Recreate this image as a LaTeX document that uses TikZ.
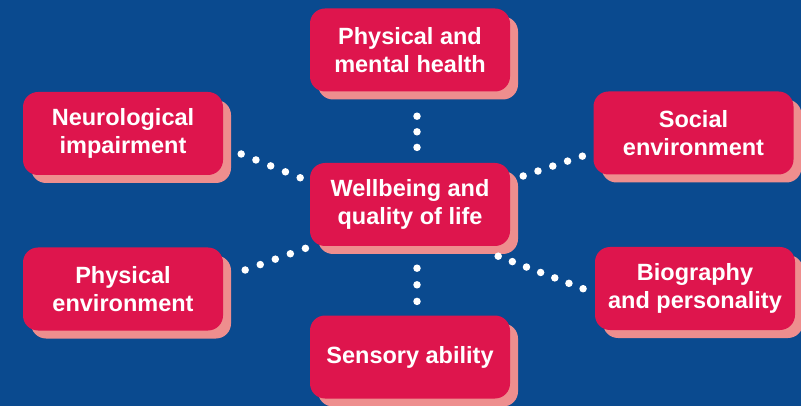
\documentclass[tikz,border=0pt]{standalone}
\usepackage{fontspec}
\setmainfont{Liberation Sans}
\usepackage{tikz}
\usetikzlibrary{positioning,calc,shadows}
\definecolor{wbblue}{HTML}{0A4A8F}
\definecolor{wbred}{HTML}{DE154D}
\definecolor{wbpink}{HTML}{EE8E8E}

\begin{document}
\begin{tikzpicture}[x=1pt, y=-1pt,
    factor/.style={fill=wbred, text=white, rounded corners=15pt,
        minimum width=200pt, minimum height=83pt, inner sep=0pt, align=center,
        font=\bfseries\fontsize{23.5}{28}\selectfont,
        drop shadow={shadow xshift=8pt, shadow yshift=-8pt, fill=wbpink, opacity=1}},
    dotline/.style={draw=white, line width=7.5pt, line cap=round, dash pattern=on 0pt off #1}]

%%% ---------- FONDO ----------
\fill[wbblue] (0,0) rectangle (801,406);
\useasboundingbox (0,0) rectangle (801,406);

%%% ---------- CAJAS ----------
\node[factor] (health)    at (410,50)    {Physical and\\mental health};
\node[factor] (neuro)     at (123,133.5) {Neurological\\impairment};
\node[factor] (social)    at (693.5,133) {Social\\environment};
\node[factor] (wellbeing) at (410,204.5) {Wellbeing and\\quality of life};
\node[factor] (physenv)   at (123,289)   {Physical\\environment};
\node[factor] (bio)       at (695,288.5) {Biography\\and personality};
\node[factor] (sensory)   at (410,357)   {Sensory ability};

%%% ---------- CONEXIONES (puntos) ----------
% verticales
\draw[dotline=15.6pt] ($(health.south)+(7,24.5)$) -- ($(wellbeing.north)+(7,-15)$);
\draw[dotline=16.6pt] ($(wellbeing.south)+(7,22)$) -- ($(sensory.north)+(7,-13.5)$);

% diagonales
\draw[dotline=15.9pt]  ($(neuro.east)+(18,20.5)$) -- ($(wellbeing.west)+(-9,-26.5)$);
\draw[dotline=15.6pt]  ($(wellbeing.east)+(13,-28.5)$) -- ($(social.west)+(-10.5,23)$);
\draw[dotline=16pt]    ($(physenv.east)+(22,-19)$) -- ($(wellbeing.south west)+(-4,2)$);
\draw[dotline=15.15pt] ($(wellbeing.south east)+(-12,10)$) -- ($(bio.west)+(-11,0.5)$);

\end{tikzpicture}
\end{document}
